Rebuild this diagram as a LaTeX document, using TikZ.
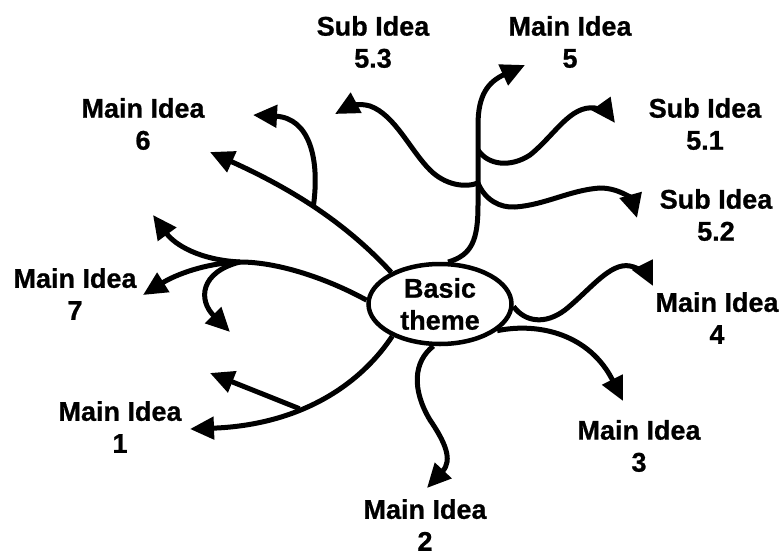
\documentclass[tikz,border=0pt]{standalone}
\usepackage{fontspec}
\setmainfont{Liberation Sans}[BoldFeatures={FakeBold=0.8}]
\usetikzlibrary{arrows.meta,shapes.geometric}
\begin{document}
\begin{tikzpicture}[x=1pt,y=-1pt,
  lbl/.style={font=\fontsize{27}{32}\selectfont\bfseries, align=center, inner sep=0pt},
  conn/.style={line width=5pt, -{Triangle[length=24pt,width=22pt]}},
  themebox/.style={ellipse, draw, line width=4.5pt, minimum width=143pt, minimum height=80pt, inner sep=0pt, align=center, font=\fontsize{27}{32}\selectfont\bfseries}]
\fill[white] (0,0) rectangle (780,557);
\useasboundingbox (0,0) rectangle (780,557);

% central theme
\node[themebox] (c) at (440,304) {Basic\\theme};

% labels
\node[lbl] (l53) at (373,42) {Sub Idea\\5.3};
\node[lbl] (l5) at (570,42) {Main Idea\\5};
\node[lbl] (l51) at (705,124) {Sub Idea\\5.1};
\node[lbl] (l52) at (716,215) {Sub Idea\\5.2};
\node[lbl] (l6) at (143,124) {Main Idea\\6};
\node[lbl] (l7) at (75,294) {Main Idea\\7};
\node[lbl] (l1) at (120,427) {Main Idea\\1};
\node[lbl] (l2) at (425,525) {Main Idea\\2};
\node[lbl] (l3) at (639,446) {Main Idea\\3};
\node[lbl] (l4) at (717,318) {Main Idea\\4};

% arrow tips and branch points
\coordinate (t5) at (525,65);
\coordinate (t51) at (615,123);
\coordinate (t52) at (637,218);
\coordinate (t53) at (335,114);
\coordinate (t6) at (210,152);
\coordinate (t6a) at (253,115);
\coordinate (t7) at (143,295);
\coordinate (t7a) at (153,215);
\coordinate (t7b) at (230,332);
\coordinate (t1) at (190,429);
\coordinate (t1a) at (210,373);
\coordinate (t2) at (427,488);
\coordinate (t3) at (623,401);
\coordinate (t4) at (653,286);
\coordinate (b51) at (478,150);
\coordinate (b52) at (478,183);
\coordinate (b7) at (240,262);

% Main idea 5 and its sub ideas
\draw[conn] (c.79) .. controls (472,255) and (478,240) .. (478,205) -- (478,125)
  .. controls (478,95) and (488,82) .. (t5);
\draw[conn] (b51) .. controls (488,165) and (510,168) .. (530,155)
  .. controls (555,135) and (570,105) .. (595,108)
  .. controls (603,110) and (610,116) .. (t51);
\draw[conn] (b52) .. controls (485,200) and (500,208) .. (515,207)
  .. controls (545,205) and (570,190) .. (600,188)
  .. controls (620,188) and (632,200) .. (t52);
\draw[conn] (b52) .. controls (465,188) and (445,185) .. (430,170)
  .. controls (410,150) and (395,115) .. (370,106)
  .. controls (360,103) and (350,106) .. (t53);

% Main idea 6
\draw[conn] (c.147) .. controls (345,222) and (290,188) .. coordinate[pos=0.5] (b6) (t6);
\draw[conn] (b6) .. controls (320,160) and (310,118) .. (t6a);

% Main idea 7
\draw[conn] (c.177) .. controls (330,280) and (280,262) .. (b7)
  .. controls (205,263) and (175,275) .. (t7);
\draw[conn] (b7) .. controls (200,260) and (175,245) .. (t7a);
\draw[conn] (b7) .. controls (200,272) and (198,300) .. (t7b);

% Main idea 1
\draw[conn] (c.214) .. controls (360,385) and (300,425) .. coordinate[pos=0.6] (b1) (t1);
\draw[conn] (b1) -- (t1a);

% Main idea 2
\draw[conn] (c.261) .. controls (413,362) and (412,390) .. (430,420)
  .. controls (445,442) and (453,460) .. (t2);

% Main idea 3
\draw[conn] (c.335) .. controls (540,322) and (590,335) .. (t3);

% Main idea 4
\draw[conn] (c.358) .. controls (525,322) and (545,325) .. (565,310)
  .. controls (590,290) and (610,262) .. (630,266)
  .. controls (640,268) and (648,276) .. (t4);
\end{tikzpicture}
\end{document}
